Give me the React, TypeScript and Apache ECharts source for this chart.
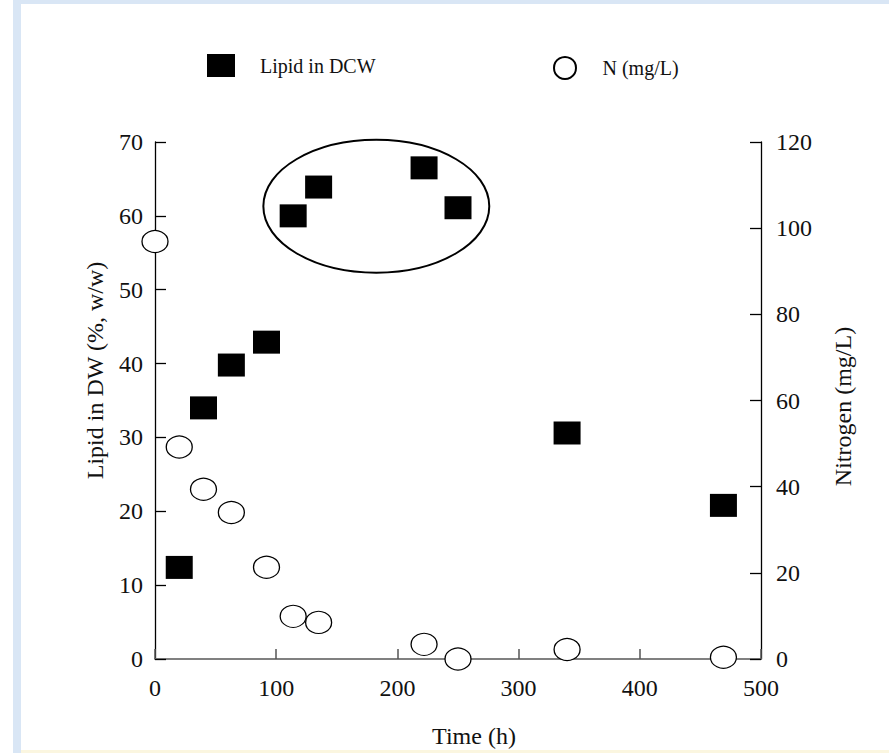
import React, { useEffect, useRef } from "react";
import * as echarts from "echarts";

// Time (h) at which lipid content was measured
const lipidTime = [20, 40, 63, 92, 114, 135, 222, 250, 340, 469];
// Lipid in DW (%, w/w)
const lipidValues = [12.4, 34.0, 39.8, 42.9, 60.0, 63.9, 66.5, 61.1, 30.6, 20.8];
// Time (h) at which nitrogen was measured
const nitrogenTime = [0, 20, 40, 63, 92, 114, 135, 222, 250, 340, 469];
// Nitrogen (mg/L)
const nitrogenValues = [96.9, 49.2, 39.4, 34.0, 21.3, 9.9, 8.5, 3.4, 0, 2.2, 0.4];

// Highlight ellipse around the high-lipid points: [centre time, centre lipid, half-width (h), half-height (%)]
const highlightEllipse = [182.6, 61.3, 93.2, 9.0];

const xTicks = { min: 0, max: 500, interval: 100 };
const leftTicks = { min: 0, max: 70, interval: 10 };
const rightTicks = { min: 0, max: 120, interval: 20 };

const FONT = "'Liberation Serif', 'DejaVu Serif', serif";
const TEXT = "#111";

export default function App() {
  const ref = useRef<HTMLDivElement>(null);

  useEffect(() => {
    if (!ref.current) return;
    const chart = echarts.init(ref.current, undefined, { renderer: "svg" });

    const lipidData = lipidTime.map((t, i) => [t, lipidValues[i]]);
    const nitrogenData = nitrogenTime.map((t, i) => [t, nitrogenValues[i]]);

    chart.setOption({
      animation: false,
      backgroundColor: "#ffffff",
      textStyle: { fontFamily: FONT, color: TEXT },
      graphic: [
        { type: "rect", left: 13, top: 0, shape: { width: 8, height: 753 }, style: { fill: "#d9e6f5" }, z: -10 },
        { type: "rect", left: 13, top: 0, shape: { width: 876, height: 4 }, style: { fill: "#d9e6f5" }, z: -10 },
        { type: "rect", left: 21, top: 750, shape: { width: 868, height: 3 }, style: { fill: "#fbf6e0" }, z: -10 },
      ],
      legend: [
        {
          left: 207,
          top: 54,
          padding: 0,
          itemWidth: 28,
          itemHeight: 23,
          itemGap: 0,
          selectedMode: false,
          data: [{ name: "Lipid in DCW", icon: "rect" }],
          textStyle: { fontFamily: FONT, fontSize: 20, color: TEXT, padding: [0, 0, 0, 20] },
        },
        {
          left: 553,
          top: 56,
          padding: 0,
          itemWidth: 25,
          itemHeight: 22,
          itemGap: 0,
          selectedMode: false,
          data: [{ name: "N (mg/L)", icon: "circle" }],
          textStyle: { fontFamily: FONT, fontSize: 20, color: TEXT, padding: [0, 0, 0, 20] },
        },
      ],
      grid: { left: 155, right: 128, top: 142, bottom: 92, containLabel: false },
      xAxis: {
        type: "value",
        ...xTicks,
        name: "Time (h)",
        nameLocation: "middle",
        nameGap: 65,
        nameTextStyle: { fontFamily: FONT, fontSize: 24, color: TEXT, padding: [0, 0, 0, 32] },
        axisLine: { show: true, onZero: false, lineStyle: { color: "#808080", width: 2 } },
        axisTick: { show: true, inside: true, length: 10, lineStyle: { color: "#555", width: 1.5 } },
        axisLabel: { margin: 17, fontSize: 24, color: TEXT, fontFamily: FONT },
        splitLine: { show: false },
      },
      yAxis: [
        {
          type: "value",
          position: "left",
          ...leftTicks,
          name: "Lipid in DW (%, w/w)",
          nameLocation: "middle",
          nameRotate: 90,
          nameGap: 48,
          nameTextStyle: { fontFamily: FONT, fontSize: 24, color: TEXT, padding: [0, 0, 0, 60] },
          axisLine: { show: true, onZero: false, lineStyle: { color: "#000", width: 1.3 } },
          axisTick: { show: true, inside: true, length: 11, lineStyle: { color: "#000", width: 1.3 } },
          axisLabel: { margin: 12, fontSize: 24, color: TEXT, fontFamily: FONT },
          splitLine: { show: false },
        },
        {
          type: "value",
          position: "right",
          ...rightTicks,
          name: "Nitrogen (mg/L)",
          nameLocation: "middle",
          nameRotate: 90,
          nameGap: 70,
          nameTextStyle: { fontFamily: FONT, fontSize: 24, color: TEXT, padding: [0, 12, 0, 0] },
          axisLine: { show: true, onZero: false, lineStyle: { color: "#000", width: 1.3 } },
          axisTick: { show: true, inside: true, length: 11, lineStyle: { color: "#000", width: 1.3 } },
          axisLabel: { margin: 15, fontSize: 24, color: TEXT, fontFamily: FONT },
          splitLine: { show: false },
        },
      ],
      series: [
        {
          name: "N (mg/L)",
          type: "scatter",
          yAxisIndex: 1,
          data: nitrogenData,
          symbol: "circle",
          symbolSize: [26, 22],
          clip: false,
          itemStyle: { color: "#ffffff", borderColor: "#000", borderWidth: 1.2, opacity: 1 },
          z: 3,
        },
        {
          name: "Lipid in DCW",
          type: "scatter",
          yAxisIndex: 0,
          data: lipidData,
          symbol: "rect",
          symbolSize: [27, 23],
          clip: false,
          itemStyle: { color: "#000000", opacity: 1 },
          z: 4,
        },
        {
          type: "custom",
          yAxisIndex: 0,
          clip: false,
          silent: true,
          data: [highlightEllipse],
          encode: { x: 0, y: 1 },
          renderItem: (params: any, api: any) => {
            const c = api.coord([api.value(0), api.value(1)]);
            const e = api.coord([api.value(0) + api.value(2), api.value(1) + api.value(3)]);
            return {
              type: "ellipse",
              shape: { cx: c[0], cy: c[1], rx: Math.abs(e[0] - c[0]), ry: Math.abs(c[1] - e[1]) },
              style: { fill: "none", stroke: "#000", lineWidth: 2 },
            };
          },
          z: 2,
        },
      ],
    });

    return () => chart.dispose();
  }, []);

  return (
    <div
      ref={ref}
      style={{ position: "fixed", left: 0, top: 0, width: 889, height: 753 }}
    />
  );
}
